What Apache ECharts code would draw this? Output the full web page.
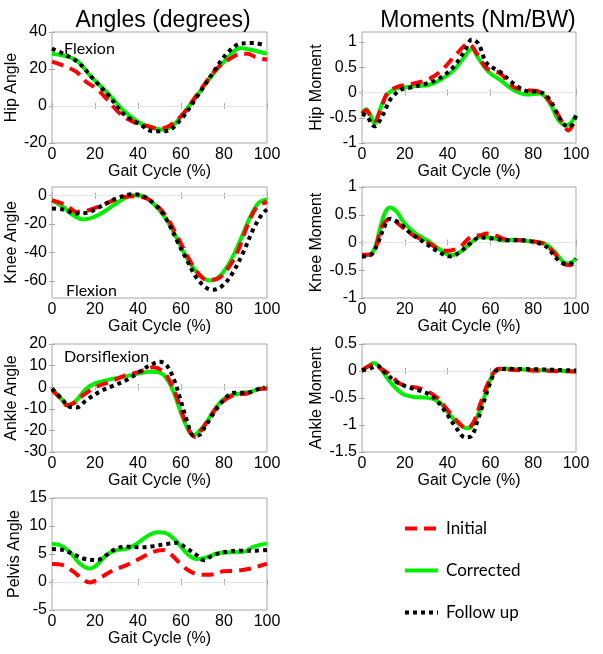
<!DOCTYPE html>
<html><head><meta charset="utf-8">
<script src="https://cdn.jsdelivr.net/npm/echarts@6/dist/echarts.min.js"></script>
<style>html,body{margin:0;padding:0;background:#fff}#c{width:603px;height:654px}</style>
</head><body><div id="c"></div>
<script>
// ---- data (x = gait cycle %, y = value) ----
const xTicks = [0, 20, 40, 60, 80, 100];
const seriesNames = ['Initial', 'Corrected', 'Follow up'];

const hipAngleInitial = [[0,24],[5,22],[11.4,18.4],[16,13],[20.7,9.4],[25.3,4],[31.6,-4.1],[36,-7.5],[40.9,-9.9],[45,-11],[50.2,-12.3],[54.9,-10.5],[61.1,-4.1],[65,2],[68.9,8.5],[76.7,20.2],[82.9,25.6],[88.3,28.3],[91,28.3],[94.6,26.5],[100,25]];
const hipAngleCorrected = [[0,28.3],[5,27.3],[11.4,24.7],[17.6,16.6],[22,11.5],[26.9,5.8],[33.1,-2.3],[40.9,-9.2],[46,-11.5],[51.8,-12.8],[55,-11.5],[58,-8.6],[65.8,3.1],[73.6,15.3],[81.3,25.6],[87.6,31.4],[93.8,30],[100,28.3]];
const hipAngleFollow = [[0,31],[6.7,27.4],[12.9,22.9],[19.1,14.8],[26.9,4.9],[33.1,-4.1],[40.9,-9.9],[47.1,-13.7],[53.3,-13.5],[59.6,-7.7],[67.4,4.9],[75.1,18.4],[81.3,28.3],[87.6,33.7],[93.8,34],[99,32.8]];

const hipMomentInitial = [[0,-0.42],[2,-0.35],[4,-0.47],[6,-0.56],[8.6,-0.35],[11.7,-0.02],[16.3,0.11],[24.1,0.18],[30.3,0.25],[36.5,0.41],[44.3,0.77],[49.8,0.97],[53.7,0.77],[58.3,0.48],[64.5,0.38],[70.8,0.11],[77,0.05],[83.2,0.01],[89.4,-0.28],[94,-0.62],[96.4,-0.75],[98.8,-0.62],[100,-0.52]];
const hipMomentCorrected = [[0,-0.4],[2,-0.33],[4,-0.45],[6,-0.62],[7.5,-0.45],[10.9,-0.09],[14.8,0.06],[19.4,0.1],[25.7,0.13],[31.1,0.15],[36.5,0.25],[42.8,0.44],[47.4,0.68],[51.3,0.87],[54.4,0.68],[59.1,0.41],[64.5,0.25],[70.8,0.05],[77,-0.04],[83.2,-0.02],[87.9,-0.22],[91.8,-0.55],[95.6,-0.65],[98,-0.58],[100,-0.45]];
const hipMomentFollow = [[0,-0.42],[2.3,-0.47],[5.8,-0.67],[10,-0.42],[13.2,-0.14],[17.9,0.05],[22.6,0.1],[30.3,0.18],[36.5,0.29],[42.8,0.51],[48.2,0.84],[51.3,1.05],[54.4,0.97],[58.3,0.58],[64.5,0.41],[70.8,0.18],[77,0.03],[83.2,0.01],[87.9,-0.15],[92.5,-0.52],[96.4,-0.68],[98.4,-0.62],[100,-0.45]];

const kneeAngleInitial = [[0,-3.3],[6.7,-6.8],[11.4,-11.5],[16,-10.8],[20.7,-8.4],[26.9,-4.5],[33.1,-1],[39.3,-0.5],[44,-2.1],[48.7,-6.8],[53.3,-15],[58,-27.8],[62.7,-41.7],[67.3,-53.4],[72,-59.2],[76.7,-58.7],[81.3,-52.2],[86,-40.6],[90.7,-21.9],[95.3,-8],[100,-4.5]];
const kneeAngleCorrected = [[0,-3.3],[5.1,-8],[9.8,-13.8],[14.5,-16.8],[19.1,-15.4],[25.3,-10.3],[31.6,-3.8],[37.8,0.2],[42.5,-0.5],[47.1,-5.6],[51.8,-13.8],[56.5,-25.4],[61.1,-39.4],[65.8,-51],[70.5,-58],[73.6,-59.7],[78.2,-56.4],[82.9,-46.4],[87.6,-31.3],[92.2,-15],[96.1,-5.2],[100,-2.8]];
const kneeAngleFollow = [[0,-9.1],[5.1,-9.8],[11.4,-12.6],[16,-12.2],[22.2,-8],[30,-2.1],[37.8,0.9],[42.5,-0.5],[48.7,-7.5],[53.3,-16.8],[58,-31.3],[62.7,-45.2],[67.3,-58],[72,-65],[75.1,-66.2],[79.8,-62.7],[84.4,-53.4],[89.1,-39.4],[93.8,-23.1],[97.7,-13.1],[100,-9.8]];

const kneeMomentInitial = [[0,-0.22],[3.9,-0.22],[6.2,-0.11],[9.3,0.28],[13.2,0.43],[17.9,0.31],[22.6,0.16],[30.3,0.01],[36.5,-0.13],[40.4,-0.15],[43,-0.13],[45.9,-0.08],[50.5,0.09],[55.2,0.13],[58.3,0.16],[62.2,0.13],[67.7,0.05],[73.9,0.04],[80.1,0.02],[84.8,-0.02],[89.4,-0.17],[94.1,-0.38],[97.2,-0.41],[100,-0.32]];
const kneeMomentCorrected = [[0,-0.23],[3.9,-0.21],[6.2,-0.08],[8.6,0.28],[10.9,0.55],[13.2,0.63],[16.3,0.55],[19.4,0.37],[24.1,0.19],[30.3,0.04],[36.5,-0.13],[41.2,-0.23],[45.9,-0.17],[50.5,-0.02],[55.2,0.1],[59.9,0.09],[66.1,0.04],[72.3,0.05],[78.5,0.02],[84.8,-0.01],[89.4,-0.14],[94.1,-0.35],[96.4,-0.38],[100,-0.29]];
const kneeMomentFollow = [[0,-0.25],[3.9,-0.23],[7,-0.05],[10.1,0.25],[13.2,0.43],[17.9,0.34],[22.6,0.17],[28.8,0.01],[35,-0.15],[41.2,-0.25],[45.9,-0.17],[50.5,-0.02],[55.2,0.09],[61.4,0.07],[67.7,0.04],[73.9,0.04],[80.1,0.01],[86.3,-0.08],[91,-0.29],[95.6,-0.39],[98,-0.37],[100,-0.29]];

const ankleAngleInitial = [[0,-1.4],[3.6,-4.8],[6.7,-8.3],[10.6,-7.2],[14.5,-3.7],[20.7,0.2],[26.9,2.5],[34.7,5.6],[40.9,7.2],[47.1,9.2],[51.8,7.2],[54.9,2.5],[58,-4.5],[61.1,-13.7],[64.2,-20.7],[66.6,-23],[68.9,-20.7],[73.6,-13.7],[78.2,-7.6],[84.4,-3.7],[90.7,-2.9],[95.3,-1.1],[100,-0.6]];
const ankleAngleCorrected = [[0,-0.6],[3.6,-4.5],[7.5,-8.3],[11.4,-6],[16,-0.6],[20.7,2],[26.9,3.6],[33.1,4.8],[39.3,6.1],[45.6,7.2],[50.2,6.7],[53.3,4.1],[56.5,-2.1],[59.6,-10.7],[62.7,-18.4],[65.8,-22.3],[68.9,-19.9],[72,-16.1],[76.7,-8.8],[81.3,-4.5],[87.6,-2.9],[93.8,-1.7],[96.9,-0.6],[100,-0.6]];
const ankleAngleFollow = [[0,-0.6],[4.4,-5.2],[8.2,-9.1],[11.4,-9.4],[16,-6],[22.2,-2.1],[28.5,0.7],[34.7,3.3],[40.9,7.2],[45.6,10.2],[50.2,11.8],[53.3,10.2],[56.5,4.1],[59.6,-5.2],[62.7,-15.3],[65.8,-22.3],[68.1,-22.3],[71.2,-18.4],[75.1,-12.2],[79.8,-6],[84.4,-2.6],[90.7,-2.6],[95.3,-1.1],[99,-0.1]];

const ankleMomentInitial = [[0,0.01],[5.4,0.12],[8.6,0.05],[13.2,-0.07],[17.1,-0.22],[21,-0.28],[25.7,-0.31],[30.3,-0.37],[35,-0.49],[39.7,-0.71],[44.3,-0.92],[49,-1.07],[52.1,-0.95],[55.2,-0.62],[58.3,-0.28],[61.4,-0.04],[63.8,0.04],[70.8,0.02],[100,-0.01]];
const ankleMomentCorrected = [[0,0.01],[3.1,0.09],[5.4,0.15],[8.6,0.05],[11.7,-0.13],[15.6,-0.31],[19.4,-0.43],[24.1,-0.48],[28.8,-0.49],[33.4,-0.52],[36.5,-0.59],[39.7,-0.74],[43.5,-0.92],[47.4,-1.04],[49.8,-1.06],[52.1,-0.98],[55.2,-0.71],[58.3,-0.34],[60.7,-0.09],[63,0.02],[67.7,0.04],[80.1,0.02],[100,-0.01]];
const ankleMomentFollow = [[0,0.01],[3.9,0.05],[7,0.1],[10.9,-0.04],[15.6,-0.19],[20.2,-0.28],[24.9,-0.34],[30.3,-0.41],[35,-0.55],[39.7,-0.8],[44.3,-1.07],[48.2,-1.23],[51.3,-1.2],[53.7,-0.95],[56.8,-0.59],[59.9,-0.22],[63,0.01],[67.7,0.04],[100,0.01]];

const pelvisAngleInitial = [[0,3.2],[5.1,3],[9.8,1.9],[14.5,0.4],[17.6,-0.1],[22.2,0.7],[28.5,2.1],[34.7,3],[40.9,4.2],[47.1,5.4],[51.8,5.7],[54.9,5.1],[59.6,3.3],[64.2,1.9],[68.9,1.3],[73.6,1.3],[79.8,1.9],[86,2],[92.2,2.4],[96.9,2.9],[100,3.3]];
const pelvisAngleCorrected = [[0,6.8],[3.6,6.6],[8.2,5.4],[12.9,3.3],[17.6,2.4],[20.7,3],[25.3,4.8],[30,5.7],[34.7,5.9],[39.3,6.8],[44,8.1],[48.7,8.9],[53.3,8.7],[58,7.2],[62.7,5.1],[67.3,4.1],[72,4.4],[76.7,5.1],[82.9,5.3],[89.1,5.4],[93.8,6.3],[100,6.9]];
const pelvisAngleFollow = [[0,5.9],[5.1,5.7],[9.8,5],[14.5,4.2],[20.7,3.9],[25.3,4.8],[30,6],[34.7,6.3],[40.9,6.2],[47.1,6.4],[53.3,6.8],[58,7],[62.7,6],[67.3,4.8],[70.5,3.9],[75.1,4.8],[81.3,5.4],[87.6,5.6],[93.8,5.6],[100,5.7]];

// y-axis tick labels
const hipAngleTicks = [-20, 0, 20, 40];
const hipMomentTicks = [-1, -0.5, 0, 0.5, 1];
const kneeAngleTicks = [-60, -40, -20, 0];
const kneeMomentTicks = [-1, -0.5, 0, 0.5, 1];
const ankleAngleTicks = [-30, -20, -10, 0, 10, 20];
const ankleMomentTicks = [-1.5, -1, -0.5, 0, 0.5];
const pelvisAngleTicks = [-5, 0, 5, 10, 15];

// ---- layout ----
const panels = [
  {name:'Hip Angle', grid:{left:52, top:32, width:215, height:111}, min:-20, max:40, ticks:hipAngleTicks, gap:29, data:[hipAngleInitial, hipAngleCorrected, hipAngleFollow]},
  {name:'Hip Moment', grid:{left:362, top:32, width:214, height:111}, min:-1, max:1.2, ticks:hipMomentTicks, gap:37, data:[hipMomentInitial, hipMomentCorrected, hipMomentFollow]},
  {name:'Knee Angle', grid:{left:52, top:187, width:215, height:111}, min:-72, max:6, ticks:kneeAngleTicks, gap:29, data:[kneeAngleInitial, kneeAngleCorrected, kneeAngleFollow]},
  {name:'Knee Moment', grid:{left:362, top:187, width:214, height:111}, min:-1, max:1, ticks:kneeMomentTicks, gap:37, data:[kneeMomentInitial, kneeMomentCorrected, kneeMomentFollow]},
  {name:'Ankle Angle', grid:{left:52, top:344, width:215, height:108}, min:-30, max:20, ticks:ankleAngleTicks, gap:29, data:[ankleAngleInitial, ankleAngleCorrected, ankleAngleFollow]},
  {name:'Ankle Moment', grid:{left:362, top:344, width:214, height:108}, min:-1.5, max:0.5, ticks:ankleMomentTicks, gap:37, data:[ankleMomentInitial, ankleMomentCorrected, ankleMomentFollow]},
  {name:'Pelvis Angle', grid:{left:52, top:498, width:215, height:112}, min:-5, max:15, ticks:pelvisAngleTicks, gap:29, data:[pelvisAngleInitial, pelvisAngleCorrected, pelvisAngleFollow]}
];

const FONT = 'Liberation Sans';
const NOTE_FONT = 'Lato';
const BOX = '#a8a8a8';
const styles = {
  'Initial':   {color:'#ff0000', width:4, type:[12,7]},
  'Corrected': {color:'#00ee00', width:4, type:'solid'},
  'Follow up': {color:'#000000', width:4, type:[4,4]}
};
const drawOrder = [1, 0, 2];

const grids = [], xAxes = [], yAxes = [], series = [];
panels.forEach((p, i) => {
  grids.push(Object.assign({show:true, borderColor:BOX, borderWidth:1, backgroundColor:'#fff'}, p.grid));
  const xBase = {gridIndex:i, type:'value', min:0, max:100, interval:20,
    axisLine:{show:false}, splitLine:{show:false},
    axisTick:{inside:true, length:3, lineStyle:{color:BOX}}};
  xAxes.push(Object.assign({}, xBase, {position:'bottom', name:'Gait Cycle (%)', nameLocation:'middle', nameGap:17,
    nameTextStyle:{fontFamily:FONT, fontSize:16, color:'#000'},
    axisLabel:{fontFamily:FONT, fontSize:16, color:'#000', margin:4}}));
  xAxes.push(Object.assign({}, xBase, {position:'top', axisLabel:{show:false}}));
  const yBase = {gridIndex:i, type:'value', min:p.min, max:p.max,
    axisLine:{show:false}, splitLine:{show:false},
    axisTick:{inside:true, length:3, customValues:p.ticks, lineStyle:{color:BOX}}};
  yAxes.push(Object.assign({}, yBase, {position:'left', name:p.name, nameLocation:'middle', nameGap:p.gap,
    nameTextStyle:{fontFamily:FONT, fontSize:16, color:'#000'},
    axisLabel:{fontFamily:FONT, fontSize:16, color:'#000', margin:5, customValues:p.ticks}}));
  yAxes.push(Object.assign({}, yBase, {position:'right', axisLabel:{show:false, customValues:p.ticks}}));
  drawOrder.forEach((k, j) => {
    const nm = seriesNames[k];
    const st = styles[nm];
    const s = {type:'line', name:nm, xAxisIndex:2*i, yAxisIndex:2*i, data:p.data[k],
      smooth:0.35, showSymbol:false, symbol:'none', animation:false, z:3+j,
      lineStyle:{color:st.color, width:st.width, type:st.type, cap:'butt'},
      itemStyle:{color:st.color}};
    if (j === 0) {
      s.markLine = {silent:true, symbol:'none', label:{show:false}, animation:false,
        lineStyle:{color:'#e4e4e4', width:1, type:'solid'}, data:[{yAxis:0}], z:1};
    }
    series.push(s);
  });
});

const chart = echarts.init(document.getElementById('c'), null, {renderer:'canvas'});
chart.setOption({
  animation:false,
  backgroundColor:'#fff',
  textStyle:{fontFamily:FONT},
  title:[
    {text:'Angles (degrees)', left:158, top:4, textAlign:'center', textStyle:{fontFamily:FONT, fontSize:23, fontWeight:'normal', color:'#000'}},
    {text:'Moments (Nm/BW)', left:473, top:4, textAlign:'center', textStyle:{fontFamily:FONT, fontSize:23, fontWeight:'normal', color:'#000'}}
  ],
  legend:{data:seriesNames, orient:'vertical', left:398, top:515, itemWidth:33, itemHeight:14, itemGap:25,
    itemStyle:{opacity:0}, lineStyle:{width:4},
    textStyle:{fontFamily:NOTE_FONT, fontSize:17, color:'#000', padding:[0,0,0,3]}, selectedMode:false},
  grid:grids, xAxis:xAxes, yAxis:yAxes, series:series,
  graphic:[
    {type:'text', left:64, top:41, style:{text:'Flexion', font:'16px ' + NOTE_FONT, fill:'#000'}, z:50},
    {type:'text', left:66, top:283, style:{text:'Flexion', font:'16px ' + NOTE_FONT, fill:'#000'}, z:50},
    {type:'text', left:64, top:349, style:{text:'Dorsiflexion', font:'16px ' + NOTE_FONT, fill:'#000'}, z:50}
  ]
});
</script></body></html>
